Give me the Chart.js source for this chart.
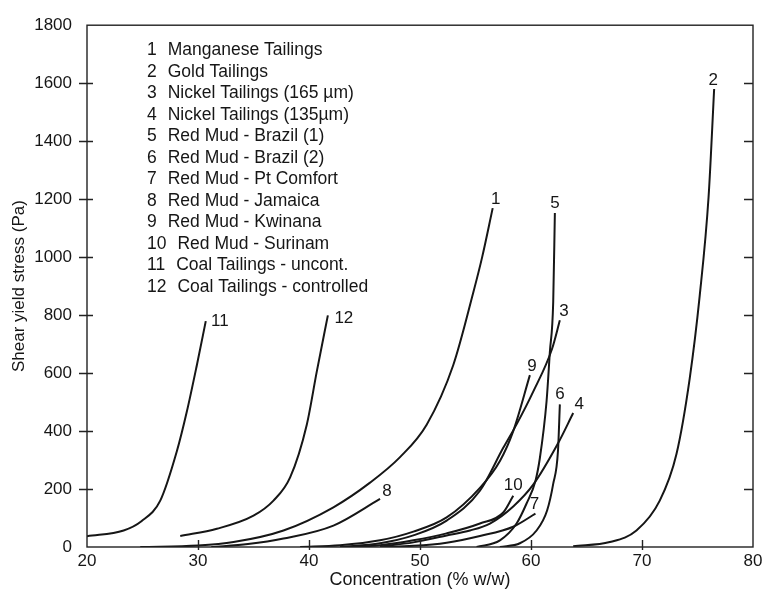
<!DOCTYPE HTML>
<html lang="en">
<head>
  <meta http-equiv="content-type" content="text/html; charset=UTF-8">
  <script src="https://cdn.jsdelivr.net/npm/chart.js"></script>
  <style>
    html, body { margin:0; padding:0; background:#fff; }
    #wrap { width:768px; height:596px; }
  </style>
</head>
<body>
  <div id="wrap"><canvas id="chart" width="768" height="596"></canvas></div>

  <script>
    // Series //
    const names = [
        'Manganese Tailings', 'Gold Tailings', 'Nickel Tailings (165 µm)', 'Nickel Tailings (135µm)',
        'Red Mud - Brazil (1)', 'Red Mud - Brazil (2)', 'Red Mud - Pt Comfort', 'Red Mud - Jamaica',
        'Red Mud - Kwinana', 'Red Mud - Surinam', 'Coal Tailings - uncont.', 'Coal Tailings - controlled'
    ];
    const c1x = [24.8, 30, 33.2, 37.7, 42.2, 45.5, 48.2, 50.6, 53.0, 54.8, 55.6, 56.55];
    const c1y = [0, 5, 17, 57, 137, 222, 310, 422, 628, 878, 1000, 1169];
    const c2x = [63.8, 67.1, 69.5, 71.6, 73.1, 74.3, 75.2, 76.0, 76.5];
    const c2y = [3, 17, 57, 160, 320, 582, 867, 1209, 1580];
    const c3x = [42.8, 46.4, 49.4, 52.4, 55.4, 57.5, 58.7, 60.2, 61.9, 62.6];
    const c3y = [0, 13, 40, 91, 194, 342, 423, 536, 684, 782];
    const c4x = [46.4, 49.4, 52.4, 54.5, 56.3, 58.4, 60.2, 62.4, 63.8];
    const c4y = [2, 16, 40, 57, 81, 140, 215, 355, 462];
    const c5x = [55.1, 57.2, 58.7, 59.6, 60.4, 60.8, 61.4, 61.7, 62.0, 62.15];
    const c5y = [0, 23, 81, 150, 228, 307, 502, 673, 844, 1152];
    const c6x = [57.2, 59.0, 60.5, 61.45, 62.0, 62.43, 62.6];
    const c6y = [0, 13, 57, 126, 218, 331, 492];
    const c7x = [46.4, 49.4, 52.4, 55.4, 58.4, 60.4];
    const c7y = [0, 4, 15, 38, 70, 115];
    const c8x = [31.2, 34.5, 37.7, 42.2, 46.4];
    const c8y = [0, 10, 29, 74, 166];
    const c9x = [39.2, 42.8, 46.4, 49.4, 52.4, 55.4, 57.2, 58.4, 59.9];
    const c9y = [0, 6, 23, 53, 102, 204, 297, 400, 593];
    const c10x = [43.7, 46.4, 49.4, 52.4, 55.4, 57.5, 58.4];
    const c10y = [0, 6, 23, 47, 81, 119, 177];
    const c11x = [20, 23.3, 24.9, 26.6, 28.1, 29.0, 29.9, 30.7];
    const c11y = [37, 57, 89, 160, 331, 468, 628, 779];
    const c12x = [28.4, 31.7, 35.0, 36.8, 38.3, 39.8, 40.7, 41.7];
    const c12y = [38, 63, 108, 160, 240, 422, 605, 799];

    const xTicks = [20, 30, 40, 50, 60, 70, 80];
    const yTicks = [0, 200, 400, 600, 800, 1000, 1200, 1400, 1600, 1800];

    const curvesX = [c1x, c2x, c3x, c4x, c5x, c6x, c7x, c8x, c9x, c10x, c11x, c12x];
    const curvesY = [c1y, c2y, c3y, c4y, c5y, c6y, c7y, c8y, c9y, c10y, c11y, c12y];

    // where the curve number sits relative to the curve end (px)
    const numberOffsets = [
        [3, -9], [-1, -9], [4, -9], [6, -9], [0, -10], [0, -10],
        [-1, -9], [7, -8], [2, -9], [0, -10], [14, 0], [16, 3]
    ];

    const FONT = '"Liberation Sans", Arial, Helvetica, sans-serif';
    const INK = '#161616';

    const datasets = names.map((name, i) => ({
        label: String(i + 1),
        data: curvesX[i].map((x, k) => ({ x: x, y: curvesY[i][k] })),
        borderColor: INK,
        borderWidth: 2,
        pointRadius: 0,
        showLine: true,
        fill: false,
        cubicInterpolationMode: 'monotone',
    }));

    // frame with in/out tick marks
    const framePlugin = {
        id: 'frame',
        afterDraw(chart) {
            const { ctx, chartArea: a, scales } = chart;
            ctx.save();
            ctx.strokeStyle = '#222';
            ctx.lineWidth = 1.4;
            ctx.strokeRect(a.left, a.top, a.right - a.left, a.bottom - a.top);
            ctx.beginPath();
            yTicks.forEach(v => {
                if (v === 0 || v === 1800) return;
                const y = Math.round(scales.y.getPixelForValue(v)) + 0.5;
                ctx.moveTo(a.left - 8, y); ctx.lineTo(a.left + 6, y);
                ctx.moveTo(a.right - 9, y); ctx.lineTo(a.right, y);
            });
            xTicks.forEach(v => {
                if (v === 20 || v === 80) return;
                const x = Math.round(scales.x.getPixelForValue(v)) + 0.5;
                ctx.moveTo(x, a.bottom + 3); ctx.lineTo(x, a.bottom - 7);
            });
            ctx.stroke();
            ctx.restore();
        }
    };

    // numbers at curve ends
    const numberPlugin = {
        id: 'numbers',
        afterDatasetsDraw(chart) {
            const ctx = chart.ctx;
            ctx.save();
            ctx.fillStyle = INK;
            ctx.font = '17px ' + FONT;
            ctx.textAlign = 'center';
            ctx.textBaseline = 'middle';
            chart.data.datasets.forEach((ds, i) => {
                const pts = chart.getDatasetMeta(i).data;
                const p = pts[pts.length - 1];
                ctx.fillText(ds.label, p.x + numberOffsets[i][0], p.y + numberOffsets[i][1]);
            });
            ctx.restore();
        }
    };

    // key list in the upper left
    const keyPlugin = {
        id: 'key',
        afterDraw(chart) {
            const ctx = chart.ctx;
            ctx.save();
            ctx.fillStyle = INK;
            ctx.font = '17.5px ' + FONT;
            ctx.textAlign = 'left';
            ctx.textBaseline = 'alphabetic';
            names.forEach((name, i) => {
                const y = 55 + i * 21.5;
                const num = String(i + 1);
                ctx.fillText(num, 147, y);
                ctx.fillText(name, 147 + ctx.measureText(num).width + 11, y);
            });
            ctx.restore();
        }
    };

    new Chart(document.getElementById('chart'), {
        type: 'scatter',
        data: { datasets: datasets },
        options: {
            responsive: false,
            animation: false,
            layout: { padding: { left: 0, top: 21, right: 15, bottom: 0 } },
            plugins: { legend: { display: false }, tooltip: { enabled: false } },
            scales: {
                x: {
                    type: 'linear', min: 20, max: 80,
                    afterBuildTicks: s => { s.ticks = xTicks.map(v => ({ value: v })); },
                    afterFit: s => { s.height = 49; },
                    grid: { display: false, drawTicks: false },
                    border: { display: false },
                    ticks: { color: INK, padding: 4, maxRotation: 0, font: { family: FONT, size: 17 },
                             callback: v => String(v) },
                    title: { display: true, text: 'Concentration (% w/w)', color: INK,
                             padding: { top: 0, bottom: 5 }, font: { family: FONT, size: 18 } },
                },
                y: {
                    type: 'linear', min: 0, max: 1800,
                    afterBuildTicks: s => { s.ticks = yTicks.map(v => ({ value: v })); },
                    afterFit: s => { s.width = 87; },
                    grid: { display: false, drawTicks: false },
                    border: { display: false },
                    ticks: { color: INK, padding: 15, font: { family: FONT, size: 17 },
                             callback: v => String(v) },
                    title: { display: true, text: 'Shear yield stress (Pa)', color: INK,
                             padding: { top: 9, bottom: 0 }, font: { family: FONT, size: 17 } },
                },
            },
        },
        plugins: [framePlugin, numberPlugin, keyPlugin],
    });
  </script>
</body>
</html>
